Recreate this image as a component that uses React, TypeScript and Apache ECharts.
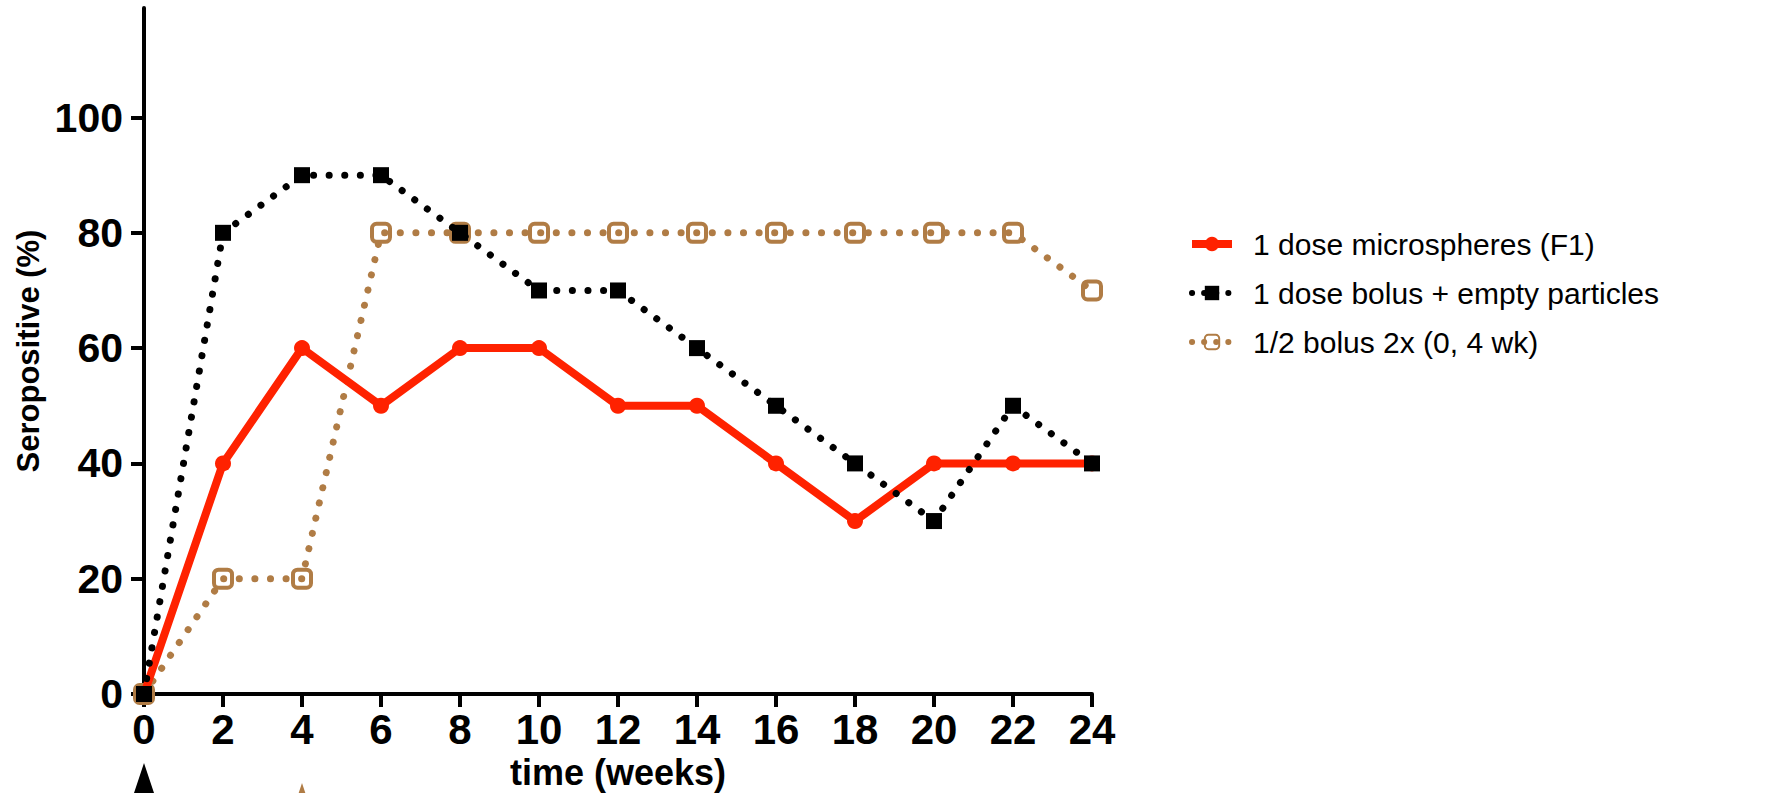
import React, { useEffect, useRef } from "react";
import * as echarts from "echarts";

const weeks = [0, 2, 4, 6, 8, 10, 12, 14, 16, 18, 20, 22, 24];
const microspheres = [0, 40, 60, 50, 60, 60, 50, 50, 40, 30, 40, 40, 40];
const bolusEmpty = [0, 80, 90, 90, 80, 70, 70, 60, 50, 40, 30, 50, 40];
const halfBolus = [0, 20, 20, 80, 80, 80, 80, 80, 80, 80, 80, 80, 70];
const yTicks = [0, 20, 40, 60, 80, 100];
const doseWeeks = [0, 4];

const seriesNames = [
  "1 dose microspheres (F1)",
  "1 dose bolus + empty particles",
  "1/2 bolus 2x (0, 4 wk)",
];

const RED = "#ff2200";
const BROWN = "#b07c45";
const FONT = "'Liberation Sans', Arial, Helvetica, sans-serif";

export default function App() {
  const ref = useRef<HTMLDivElement>(null);
  useEffect(() => {
    if (!ref.current) return;
    const chart = echarts.init(ref.current, undefined, { renderer: "svg" });
    const pair = (arr: number[]) => weeks.map((w, i) => [w, arr[i]]);
    const dotted = [0.1, 15.5];
    const legendDotted = [0.1, 12];
    chart.setOption({
      animation: false,
      backgroundColor: "#ffffff",
      grid: {
        left: 144,
        right: 699,
        top: 8,
        bottom: 99,
        containLabel: false,
        outerBoundsMode: "none",
      },
      legend: {
        orient: "vertical",
        left: 1183,
        top: 221,
        itemWidth: 40,
        itemHeight: 18,
        itemGap: 13,
        data: [
          { name: seriesNames[0], lineStyle: { width: 8, color: RED } },
          { name: seriesNames[1], lineStyle: { width: 6, color: "#000", type: legendDotted, cap: "round" } },
          { name: seriesNames[2], lineStyle: { width: 6, color: BROWN, type: legendDotted, cap: "round" } },
        ],
        textStyle: {
          fontFamily: FONT,
          fontSize: 30,
          color: "#000",
          lineHeight: 36,
          padding: [0, 0, 0, 16],
        },
      },
      xAxis: {
        type: "value",
        min: 0,
        max: 24,
        interval: 2,
        name: "time (weeks)",
        nameLocation: "middle",
        nameGap: 59,
        nameTextStyle: { fontFamily: FONT, fontWeight: "bold", fontSize: 36, color: "#000" },
        splitLine: { show: false },
        axisLine: { lineStyle: { color: "#000", width: 4 } },
        axisTick: { length: 13, lineStyle: { color: "#000", width: 4 } },
        axisLabel: { margin: 14, fontFamily: FONT, fontWeight: "bold", fontSize: 42, color: "#000" },
      },
      yAxis: {
        type: "value",
        min: 0,
        max: 119,
        interval: 20,
        name: "Seropositive (%)",
        nameLocation: "middle",
        nameGap: 91,
        nameTextStyle: { fontFamily: FONT, fontWeight: "bold", fontSize: 31, color: "#000" },
        splitLine: { show: false },
        axisLine: { lineStyle: { color: "#000", width: 4 } },
        axisTick: { length: 13, customValues: yTicks, lineStyle: { color: "#000", width: 4 } },
        axisLabel: { margin: 21, customValues: yTicks, fontFamily: FONT, fontWeight: "bold", fontSize: 41, color: "#000" },
      },
      series: [
        {
          name: seriesNames[0],
          type: "line",
          z: 3,
          clip: false,
          data: pair(microspheres),
          symbol: "circle",
          symbolSize: 16,
          lineStyle: { color: RED, width: 8 },
          itemStyle: { color: RED },
        },
        {
          name: seriesNames[1],
          type: "line",
          z: 4,
          clip: false,
          data: pair(bolusEmpty),
          symbol: "rect",
          symbolSize: 16,
          lineStyle: { color: "#000", width: 7, type: dotted, cap: "round" },
          itemStyle: { color: "#000" },
        },
        {
          name: seriesNames[2],
          type: "line",
          z: 2,
          clip: false,
          data: pair(halfBolus),
          symbol: "roundRect",
          symbolSize: 18,
          lineStyle: { color: BROWN, width: 7, type: dotted, cap: "round" },
          itemStyle: { color: "rgba(255,255,255,0)", borderColor: BROWN, borderWidth: 4 },
        },
      ],
    });
    const colors = ["#000", BROWN];
    const tops = [763, 783];
    const elements = doseWeeks.map((w, i) => {
      const px = chart.convertToPixel({ xAxisIndex: 0 }, w) as number;
      const t = tops[i];
      return {
        type: "polygon",
        shape: { points: [[px, t], [px - 12, t + 36], [px + 12, t + 36]] },
        style: { fill: colors[i] },
      };
    });
    chart.setOption({ graphic: { elements } });
    return () => chart.dispose();
  }, []);
  return (
    <div
      ref={ref}
      style={{ position: "fixed", left: 0, top: 0, width: 1791, height: 793, background: "#fff" }}
    />
  );
}
